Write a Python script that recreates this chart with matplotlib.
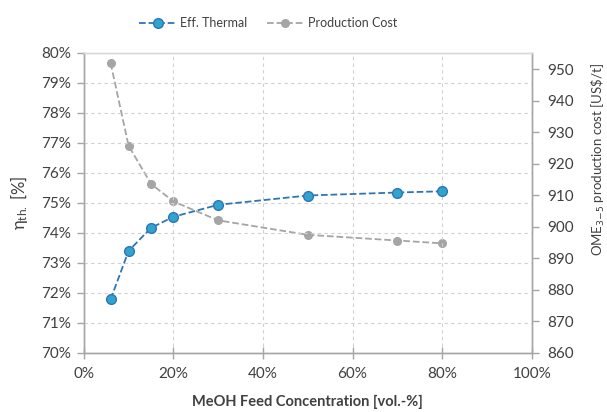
import matplotlib
matplotlib.use("Agg")
import matplotlib.pyplot as plt
from matplotlib.ticker import FuncFormatter, MultipleLocator

plt.rcParams['font.family'] = ['Lato', 'DejaVu Sans']
plt.rcParams['mathtext.fontset'] = 'dejavusans'

meoh_conc = [6, 10, 15, 20, 30, 50, 70, 80]
eff_thermal = [71.78, 73.39, 74.16, 74.53, 74.93, 75.24, 75.34, 75.38]
prod_cost = [951.9, 925.7, 913.6, 908.0, 902.0, 897.4, 895.6, 894.7]

text_col = '#404040'
spine_col = '#A6A6A6'
grid_col = '#D0D0D0'

fig = plt.figure(figsize=(6.07, 4.12), dpi=100)
ax = fig.add_axes([0.138, 0.144, 0.738, 0.728])
ax2 = ax.twinx()

l1, = ax.plot(meoh_conc, eff_thermal, linestyle='--', color='#2E75B6', lw=1.3,
              marker='o', markersize=7, markerfacecolor='#2FA4CC',
              markeredgecolor='#2E75B6', markeredgewidth=1.0, label='Eff. Thermal', zorder=5)
l2, = ax2.plot(meoh_conc, prod_cost, linestyle='--', color='#A5A5A5', lw=1.3,
               marker='o', markersize=5.5, markerfacecolor='#A5A5A5',
               markeredgecolor='#A5A5A5', label='Production Cost', zorder=4)

ax.set_xlim(0, 100)
ax.set_ylim(70, 80)
ax2.set_ylim(860, 955.2)
ax.xaxis.set_major_locator(MultipleLocator(20))
ax.yaxis.set_major_locator(MultipleLocator(1))
ax2.set_yticks(range(860, 951, 10))
ax.xaxis.set_major_formatter(FuncFormatter(lambda v, p: f'{int(round(v))}%'))
ax.yaxis.set_major_formatter(FuncFormatter(lambda v, p: f'{int(round(v))}%'))

ax.grid(True, linestyle=(0, (3, 3)), color=grid_col, lw=0.8)
ax.set_axisbelow(True)
ax.set_zorder(ax2.get_zorder() + 1)
ax.patch.set_visible(False)

for a in (ax, ax2):
    for s in a.spines.values():
        s.set_color(spine_col)
        s.set_linewidth(1.0)
    a.tick_params(colors=spine_col, labelcolor=text_col, labelsize=11, length=5, width=1)
ax.spines['top'].set_color('#D9D9D9')
ax2.spines['top'].set_color('#D9D9D9')
ax.tick_params(axis='x', direction='inout', length=8, pad=6)
ax.tick_params(axis='y', pad=4)
ax2.tick_params(axis='y', pad=6)

ax.set_xlabel('MeOH Feed Concentration [vol.-%]', fontsize=10.5, fontweight='bold',
              color=text_col, labelpad=10)
ax.set_ylabel(r'$\mathregular{\eta_{th.}}$ [%]', fontsize=12, color=text_col, labelpad=8)
ax2.set_ylabel(r'OME$_{3\mathrm{-}5}$ production cost [US\$/t]', fontsize=9.5,
               color=text_col)
ax2.yaxis.set_label_coords(1.13, 0.645)

fig.legend(handles=[l1, l2], loc='upper center', bbox_to_anchor=(0.442, 0.985), ncol=2,
           frameon=False, fontsize=9, labelcolor=text_col, handlelength=2.9,
           columnspacing=1.6, handletextpad=0.35)

fig.savefig('out.png', dpi=100)
